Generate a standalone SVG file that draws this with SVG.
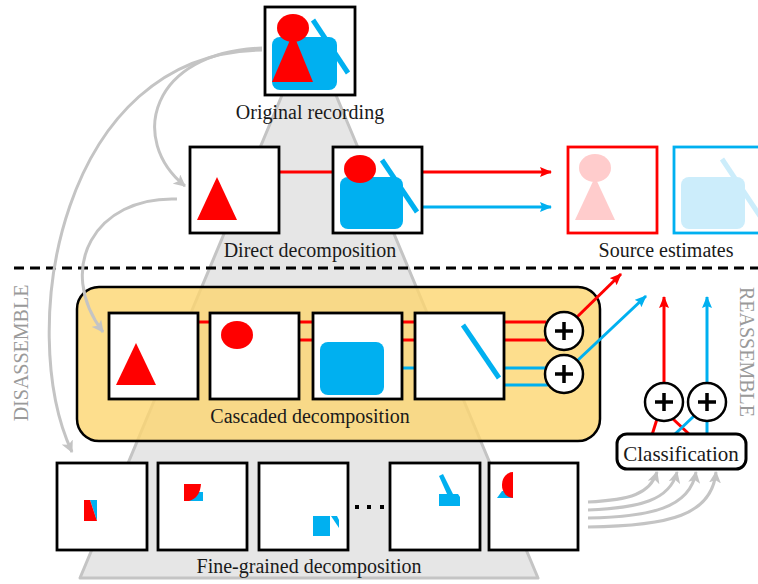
<svg xmlns="http://www.w3.org/2000/svg" width="758" height="584" viewBox="0 0 758 584">
  <style>
    .lbl { font-family: "Liberation Serif", "Times New Roman", serif; font-size: 20px; fill: #1a1a1a; text-anchor: middle; }
    .side { font-family: "Liberation Serif", "Times New Roman", serif; font-size: 20px; fill: #9a9a9a; text-anchor: middle; }
    .box { fill: #ffffff; stroke: #000000; stroke-width: 2.8; }
    .red { fill: #ff0000; }
    .blue { fill: #00b0f0; }
    .rline { stroke: #ff0000; stroke-width: 3; fill: none; }
    .bline { stroke: #00b0f0; stroke-width: 3; fill: none; }
    .gcurve { stroke: #c4c4c4; stroke-width: 3; fill: none; marker-end: url(#ga); }
    .plus circle { fill: #ffffff; stroke: #000000; stroke-width: 2.5; }
    .plus path { stroke: #000000; stroke-width: 3.5; fill: none; }
  </style>
  <defs>
    <marker id="ra" markerUnits="userSpaceOnUse" markerWidth="12" markerHeight="10" refX="11" refY="5" orient="auto">
      <path d="M0,0 L12,5 L0,10 L2,5 z" fill="#ff0000"/>
    </marker>
    <marker id="ba" markerUnits="userSpaceOnUse" markerWidth="12" markerHeight="10" refX="11" refY="5" orient="auto">
      <path d="M0,0 L12,5 L0,10 L2,5 z" fill="#00b0f0"/>
    </marker>
    <marker id="ga" markerUnits="userSpaceOnUse" markerWidth="12" markerHeight="12" refX="11" refY="6" orient="auto">
      <path d="M0,0 L12,6 L0,12 L3,6 z" fill="#c4c4c4"/>
    </marker>
  </defs>

  <rect width="758" height="584" fill="#ffffff"/>

  <!-- background funnel -->
  <polygon id="funnel" points="285,88 333,88 538,578 80,578" fill="#e6e6e6" stroke="#c4c4c4" stroke-width="3" stroke-linejoin="round"/>

  <!-- dashed separator -->
  <line x1="14" y1="268" x2="758" y2="268" stroke="#000000" stroke-width="3" stroke-dasharray="10 6"/>

  <!-- side labels -->
  <text class="side" transform="translate(28,353) rotate(-90)">DISASSEMBLE</text>
  <text class="side" transform="translate(740,352) rotate(90)">REASSEMBLE</text>

  <!-- cascaded panel -->
  <g id="cascade-panel">
    <rect x="77" y="287" width="523" height="154" rx="22" fill="#fcd670" fill-opacity="0.8" stroke="#000000" stroke-width="2.5"/>
    <text class="lbl" x="310" y="423">Cascaded decomposition</text>
  </g>

  <g id="connectors">
    <!-- direct decomposition -->
    <line class="rline" x1="279" y1="172" x2="333" y2="172"/>
    <line class="rline" x1="422" y1="172" x2="551" y2="172" marker-end="url(#ra)"/>
    <line class="bline" x1="422" y1="207" x2="551" y2="207" marker-end="url(#ba)"/>
    <!-- cascade -->
    <line class="rline" x1="198" y1="322" x2="210" y2="322"/>
    <line class="rline" x1="299" y1="322" x2="313" y2="322"/>
    <line class="rline" x1="299" y1="340" x2="313" y2="340"/>
    <line class="rline" x1="402" y1="322" x2="415" y2="322"/>
    <line class="rline" x1="402" y1="340" x2="415" y2="340"/>
    <line class="bline" x1="402" y1="368" x2="415" y2="368"/>
    <line class="rline" x1="504" y1="322" x2="546" y2="322"/>
    <line class="rline" x1="504" y1="340" x2="546" y2="340"/>
    <line class="bline" x1="504" y1="368" x2="546" y2="368"/>
    <line class="bline" x1="504" y1="385" x2="548" y2="385"/>
    <line class="rline" x1="576" y1="318" x2="621" y2="274" marker-end="url(#ra)"/>
    <line class="bline" x1="577" y1="361" x2="646" y2="296" marker-end="url(#ba)"/>
    <!-- classification to sums -->
    <line class="rline" x1="652" y1="435" x2="657" y2="419"/>
    <line class="rline" x1="672" y1="418" x2="690" y2="435"/>
    <line class="bline" x1="674" y1="435" x2="694" y2="416"/>
    <line class="bline" x1="707" y1="435" x2="707" y2="421"/>
    <line class="rline" x1="664" y1="383" x2="664" y2="297" marker-end="url(#ra)"/>
    <line class="bline" x1="707" y1="383" x2="707" y2="297" marker-end="url(#ba)"/>
    <!-- grey flow arrows -->
    <path class="gcurve" d="M262,48 C150,52 128,140 185,186"/>
    <path class="gcurve" d="M262,50 C60,52 15,330 72,452"/>
    <path class="gcurve" d="M177,199 C95,196 55,268 103,332"/>
    <path class="gcurve" d="M588,502 C630,500 650,494 657,472"/>
    <path class="gcurve" d="M588,510 C640,508 670,500 677,472"/>
    <path class="gcurve" d="M588,518 C650,517 690,508 696,472"/>
    <path class="gcurve" d="M588,527 C670,526 712,515 716,472"/>
  </g>

  <!-- original recording -->
  <g id="original">
    <rect class="box" x="265" y="7" width="90" height="88"/>
    <line x1="313" y1="20" x2="348" y2="73" stroke="#00b0f0" stroke-width="5"/>
    <rect class="blue" x="272" y="37" width="65" height="53" rx="8"/>
    <polygon class="red" points="293,33 272,82 313,82"/>
    <ellipse class="red" cx="293" cy="28" rx="16" ry="14"/>
    <text class="lbl" x="310" y="119">Original recording</text>
  </g>

  <!-- direct decomposition -->
  <g id="direct-1">
    <rect class="box" x="190" y="147" width="89" height="86"/>
    <polygon class="red" points="217,177 197,220 237,220"/>
  </g>
  <g id="direct-2">
    <rect class="box" x="333" y="147" width="89" height="86"/>
    <line x1="382" y1="160" x2="417" y2="212" stroke="#00b0f0" stroke-width="5"/>
    <rect class="blue" x="340" y="177" width="63" height="52" rx="8"/>
    <ellipse class="red" cx="360" cy="169" rx="16" ry="14"/>
  </g>
  <text class="lbl" x="310" y="257">Direct decomposition</text>

  <!-- source estimates -->
  <g id="estimate-red">
    <rect x="568" y="147" width="89" height="86" fill="#ffffff" stroke="#ff0000" stroke-width="2.8"/>
    <polygon points="595,177 575,220 615,220" fill="#ffcccc"/>
    <ellipse cx="595" cy="168" rx="16" ry="14" fill="#ffcccc"/>
  </g>
  <g id="estimate-blue">
    <rect x="674" y="147" width="89" height="86" fill="#ffffff" stroke="#00b0f0" stroke-width="2.8"/>
    <line x1="722" y1="159" x2="760" y2="216" stroke="#ccedfb" stroke-width="5"/>
    <rect x="681" y="177" width="64" height="52" rx="8" fill="#ccedfb"/>
  </g>
  <text class="lbl" x="666" y="257">Source estimates</text>

  <!-- cascaded stages -->
  <g id="cascade-1">
    <rect class="box" x="109" y="313" width="89" height="86"/>
    <polygon class="red" points="136,343 116,385 156,385"/>
  </g>
  <g id="cascade-2">
    <rect class="box" x="210" y="313" width="89" height="86"/>
    <ellipse class="red" cx="237" cy="335" rx="16" ry="14"/>
  </g>
  <g id="cascade-3">
    <rect class="box" x="313" y="313" width="89" height="86"/>
    <rect class="blue" x="320" y="342" width="64" height="53" rx="8"/>
  </g>
  <g id="cascade-4">
    <rect class="box" x="415" y="313" width="89" height="86"/>
    <line x1="463" y1="325" x2="499" y2="378" stroke="#00b0f0" stroke-width="5"/>
  </g>
  <g id="sum-red" class="plus">
    <circle cx="564" cy="331" r="19"/>
    <path d="M555,331 H573 M564,322 V340"/>
  </g>
  <g id="sum-blue" class="plus">
    <circle cx="564" cy="374" r="19"/>
    <path d="M555,374 H573 M564,365 V383"/>
  </g>

  <!-- reassembly -->
  <g id="sum-a" class="plus">
    <circle cx="664" cy="402" r="19"/>
    <path d="M655,402 H673 M664,393 V411"/>
  </g>
  <g id="sum-b" class="plus">
    <circle cx="707" cy="402" r="19"/>
    <path d="M698,402 H716 M707,393 V411"/>
  </g>
  <g id="classification">
    <rect x="617" y="434" width="129" height="35" rx="10" fill="#ffffff" stroke="#000000" stroke-width="3"/>
    <text class="lbl" x="681" y="461" style="font-size:21px">Classification</text>
  </g>

  <!-- fine-grained pieces -->
  <g id="fine-1">
    <rect class="box" x="57" y="463" width="90" height="87"/>
    <polygon class="blue" points="90,500 97,500 97,521"/>
    <polygon class="red" points="84,500 90,500 97,521 84,521"/>
  </g>
  <g id="fine-2">
    <rect class="box" x="158" y="463" width="89" height="87"/>
    <rect class="blue" x="189" y="492" width="14" height="9"/>
    <path class="red" d="M184,484 L201,484 Q200,498 189,501 L184,501 Z"/>
  </g>
  <g id="fine-3">
    <rect class="box" x="259" y="463" width="89" height="87"/>
    <rect class="blue" x="313" y="516" width="17" height="20"/>
    <polygon class="blue" points="331,516 337,516 339,520 339,528"/>
  </g>
  <g id="ellipsis">
    <rect x="355" y="505" width="4" height="4" fill="#000000"/>
    <rect x="367" y="505" width="4" height="4" fill="#000000"/>
    <rect x="380" y="505" width="4" height="4" fill="#000000"/>
  </g>
  <g id="fine-4">
    <rect class="box" x="390" y="463" width="90" height="87"/>
    <polygon class="blue" points="439,476 443,474 453,494 458,494 460,497 460,506 439,506 439,494 447,494"/>
  </g>
  <g id="fine-5">
    <rect class="box" x="489" y="463" width="89" height="87"/>
    <polygon class="blue" points="497,498 502,491 513,491 513,498"/>
    <path class="red" d="M513,472 A11,13 0 0 0 513,498 Z"/>
  </g>
  <text class="lbl" x="309" y="573">Fine-grained decomposition</text>
</svg>
